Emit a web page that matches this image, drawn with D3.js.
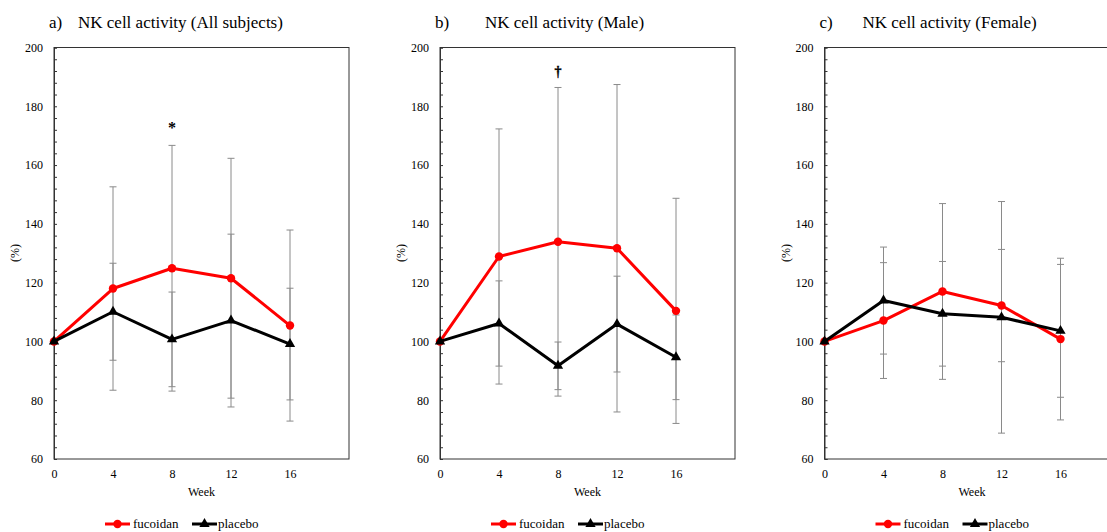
<!DOCTYPE html>
<html>
<head>
<meta charset="utf-8">
<script src="https://cdn.jsdelivr.net/npm/d3@7"></script>
<style>
  html, body { margin: 0; padding: 0; background: #fff; }
  svg { display: block; }
  svg text { font-family: "Liberation Serif", serif !important; fill: #000; }
</style>
</head>
<body>
<svg id="chart" width="1107" height="532"></svg>
<script>
// ---- data ----
const weeks = [0, 4, 8, 12, 16];
const yTickValues = [60, 80, 100, 120, 140, 160, 180, 200];
const xTickValues = [0, 4, 8, 12, 16];
const seriesNames = ["fucoidan", "placebo"];

const panelLetters = ["a)", "b)", "c)"];
const panelTitles = ["NK cell activity (All subjects)", "NK cell activity (Male)", "NK cell activity (Female)"];

// All subjects
const allFucoidan   = [100, 118.0, 124.9, 121.5, 105.4];
const allFucoidanSD = [null, 34.6, 41.8, 40.8, 32.5];
const allPlacebo    = [100, 110.1, 100.7, 107.1, 99.1];
const allPlaceboSD  = [null, 16.5, 16.1, 29.4, 19.0];

// Male
const maleFucoidan   = [100, 128.9, 133.9, 131.7, 110.4];
const maleFucoidanSD = [null, 43.4, 52.5, 55.7, 38.3];
const malePlacebo    = [100, 106.1, 91.7, 105.9, 94.6];
const malePlaceboSD  = [null, 14.5, 8.1, 16.3, 14.4];

// Female
const femFucoidan   = [100, 107.1, 117.0, 112.2, 100.8];
const femFucoidanSD = [null, 19.7, 29.9, 19.1, 27.5];
const femPlacebo    = [100, 113.9, 109.4, 108.2, 103.6];
const femPlaceboSD  = [null, 18.2, 17.8, 39.4, 22.6];

// significance marks
const marks = [
  {panel: 0, week: 8, value: 173.5, symbol: "*"},
  {panel: 1, week: 8, value: 191.5, symbol: "†"}
];

const panelsData = [
  {fuc: allFucoidan, fucSD: allFucoidanSD, pla: allPlacebo, plaSD: allPlaceboSD},
  {fuc: maleFucoidan, fucSD: maleFucoidanSD, pla: malePlacebo, plaSD: malePlaceboSD},
  {fuc: femFucoidan, fucSD: femFucoidanSD, pla: femPlacebo, plaSD: femPlaceboSD}
];

// ---- layout ----
const svg = d3.select("#chart");
const panelLefts = [54, 440, 824.5];
const titleOffsets = [24, 45, 38];
const plotW = 295, plotTop = 47.5, plotBottom = 459;
const RED = "#ff0000", BLACK = "#000000", GREY = "#8a8a8a", AXIS = "#333333";

const y = d3.scaleLinear().domain([60, 200]).range([plotBottom, plotTop]);

const tri = d3.symbol().type(d3.symbolTriangle).size(46);

panelsData.forEach((pd, i) => {
  const left = panelLefts[i];
  const x = d3.scaleLinear().domain([0, 20]).range([left, left + plotW]);
  const g = svg.append("g");

  // frame
  g.append("rect").attr("x", left).attr("y", plotTop).attr("width", plotW).attr("height", plotBottom - plotTop)
    .attr("fill", "none").attr("stroke", AXIS).attr("stroke-width", 1);

  // y axis with inner minor ticks every 4
  const yAxis = d3.axisRight(y).tickValues(d3.range(60, 201, 4)).tickSize(3).tickFormat("");
  const ya = g.append("g").attr("transform", `translate(${left},0)`).call(yAxis);
  ya.select(".domain").attr("stroke", AXIS);
  ya.selectAll(".tick line").attr("stroke", AXIS);

  // y labels
  const yl = d3.axisLeft(y).tickValues(yTickValues).tickSize(0).tickPadding(11);
  const yla = g.append("g").attr("transform", `translate(${left},0)`).call(yl);
  yla.select(".domain").remove();
  yla.attr("font-size", 12);

  // x labels
  const xl = d3.axisBottom(x).tickValues(xTickValues).tickSize(0).tickPadding(10);
  const xla = g.append("g").attr("transform", `translate(0,${plotBottom})`).call(xl);
  xla.select(".domain").remove();
  xla.attr("font-size", 12);

  // axis titles
  g.append("text").attr("x", left + plotW / 2).attr("y", 496).attr("text-anchor", "middle")
    .attr("font-size", 12).text("Week");
  g.append("text").attr("transform", `translate(${left - 39},253) rotate(-90)`)
    .attr("text-anchor", "middle").attr("dy", "0.35em").attr("font-size", 12).text("(%)");

  // panel titles
  g.append("text").attr("x", left - 5).attr("y", 28).attr("font-size", 17).text(panelLetters[i]);
  g.append("text").attr("x", left + titleOffsets[i]).attr("y", 28).attr("font-size", 17).text(panelTitles[i]);

  const series = [
    {vals: pd.fuc, sd: pd.fucSD, color: RED, marker: "circle"},
    {vals: pd.pla, sd: pd.plaSD, color: BLACK, marker: "triangle"}
  ];

  // error bars
  series.forEach(s => {
    const eb = g.append("g");
    weeks.forEach((w, k) => {
      const sd = s.sd[k];
      if (sd == null) return;
      const cx = x(w), y1 = y(s.vals[k] + sd), y2 = y(s.vals[k] - sd);
      eb.append("line").attr("x1", cx).attr("x2", cx).attr("y1", y1).attr("y2", y2)
        .attr("stroke", GREY).attr("stroke-width", 1);
      [y1, y2].forEach(yy => eb.append("line").attr("x1", cx - 3.5).attr("x2", cx + 3.5)
        .attr("y1", yy).attr("y2", yy).attr("stroke", GREY).attr("stroke-width", 1));
    });
  });

  // lines and markers
  const line = d3.line().x((d, k) => x(weeks[k])).y(d => y(d));
  series.forEach(s => {
    g.append("path").datum(s.vals).attr("d", line).attr("fill", "none")
      .attr("stroke", s.color).attr("stroke-width", 3).attr("stroke-linejoin", "round");
    if (s.marker === "circle") {
      g.selectAll(null).data(s.vals).enter().append("circle")
        .attr("cx", (d, k) => x(weeks[k])).attr("cy", d => y(d)).attr("r", 4.2).attr("fill", s.color);
    } else {
      g.selectAll(null).data(s.vals).enter().append("path")
        .attr("d", tri).attr("transform", (d, k) => `translate(${x(weeks[k])},${y(d)})`).attr("fill", s.color);
    }
  });

  // significance
  marks.filter(m => m.panel === i).forEach(m => {
    const isStar = m.symbol === "*";
    g.append("text").attr("x", x(m.week)).attr("y", y(m.value) + (isStar ? 8 : 3.5))
      .attr("text-anchor", "middle").attr("font-size", isStar ? 16 : 14)
      .attr("font-weight", "bold")
      .attr("stroke", "#000").attr("stroke-width", isStar ? 0 : 0.4)
      .text(m.symbol);
  });

  // legend
  const lx = left + plotW / 2 - 96.5, ly = 524;
  const lg = g.append("g");
  lg.append("line").attr("x1", lx).attr("x2", lx + 25).attr("y1", ly).attr("y2", ly).attr("stroke", RED).attr("stroke-width", 3);
  lg.append("circle").attr("cx", lx + 12.5).attr("cy", ly).attr("r", 4.2).attr("fill", RED);
  lg.append("text").attr("x", lx + 28).attr("y", ly).attr("dy", "0.32em").attr("font-size", 13).text(seriesNames[0]);
  lg.append("line").attr("x1", lx + 87).attr("x2", lx + 112).attr("y1", ly).attr("y2", ly).attr("stroke", BLACK).attr("stroke-width", 3);
  lg.append("path").attr("d", tri).attr("transform", `translate(${lx + 99.5},${ly})`).attr("fill", BLACK);
  lg.append("text").attr("x", lx + 113).attr("y", ly).attr("dy", "0.32em").attr("font-size", 13).text(seriesNames[1]);
});
</script>
</body>
</html>
